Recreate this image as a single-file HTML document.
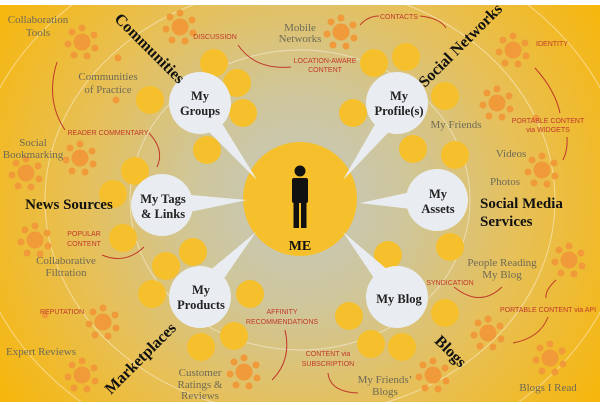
<!DOCTYPE html>
<html><head><meta charset="utf-8"><style>
html,body{margin:0;padding:0;background:#fff;overflow:hidden;width:600px;height:405px}
svg{display:block}
.g{font-family:"Liberation Serif",serif;font-size:11px;fill:#6e6a55;text-anchor:middle}
.r{font-family:"Liberation Sans",sans-serif;font-size:7px;fill:#c0392b;text-anchor:middle}
.b{font-family:"Liberation Serif",serif;font-weight:bold;fill:#111;text-anchor:middle}
.w{font-family:"Liberation Serif",serif;font-weight:bold;font-size:12.5px;fill:#222;text-anchor:middle}
.y{fill:#f5c02c}
.c{fill:none;stroke:#c0392b;stroke-width:1}
</style></head><body>
<svg width="600" height="405" viewBox="0 0 600 405" xmlns="http://www.w3.org/2000/svg">
<defs>
<radialGradient id="bg" cx="300" cy="200" r="360" gradientUnits="userSpaceOnUse">
<stop offset="0" stop-color="#c4c8c0"/><stop offset="0.3" stop-color="#cfc69a"/>
<stop offset="0.6" stop-color="#e6c05a"/><stop offset="1" stop-color="#f7b60a"/></radialGradient>
<g id="f" fill="#f09a3a"><circle r="8.5"/><circle cx="0" cy="-14" r="3.5"/><circle cx="12" cy="-7" r="3.5"/><circle cx="13" cy="6" r="3.5"/><circle cx="5" cy="14" r="3.5"/><circle cx="-8" cy="13" r="3.5"/><circle cx="-14" cy="2" r="3.5"/><circle cx="-10" cy="-10" r="3.5"/></g>
</defs>
<rect width="600" height="405" fill="#fff"/>
<rect y="5" width="600" height="397" fill="url(#bg)"/>
<g fill="none" stroke="#fff" stroke-opacity="0.45" stroke-width="1">
<ellipse cx="300" cy="200" rx="170" ry="150"/>
<ellipse cx="300" cy="200" rx="255" ry="215"/>
<ellipse cx="300" cy="200" rx="330" ry="270"/>
</g>
<g>
<use href="#f" x="82" y="42"/><use href="#f" x="180" y="27"/><use href="#f" x="341" y="32"/>
<use href="#f" x="513" y="50"/><use href="#f" x="497" y="103"/><use href="#f" x="542" y="170"/>
<use href="#f" x="80" y="158"/><use href="#f" x="26" y="173"/><use href="#f" x="35" y="240"/>
<use href="#f" x="103" y="322"/><use href="#f" x="82" y="375"/><use href="#f" x="244" y="372"/>
<use href="#f" x="569" y="260"/><use href="#f" x="488" y="333"/><use href="#f" x="433" y="375"/>
<use href="#f" x="550" y="358"/>
</g>
<g fill="#f09a3a"><circle cx="118" cy="58" r="3.5"/><circle cx="116" cy="100" r="3.5"/><circle cx="45" cy="315" r="3.5"/><circle cx="536" cy="118" r="3.5"/></g>
<path class="c" d="M238,45 Q255,70 291,67"/>
<path class="c" d="M360,25 Q368,16 379,16"/>
<path class="c" d="M420,16 Q440,18 446,28"/>
<path class="c" d="M57,62 Q45,100 65,130"/>
<path class="c" d="M149,133 Q165,150 157,167"/>
<path class="c" d="M102,255 Q125,265 144,247"/>
<path class="c" d="M535,68 Q555,90 560,113"/>
<path class="c" d="M567,137 Q568,150 563,160"/>
<path class="c" d="M454,287 Q480,308 502,287"/>
<path class="c" d="M556,280 Q545,290 546,298"/>
<path class="c" d="M548,317 Q540,338 513,343"/>
<path class="c" d="M285,330 Q292,360 272,380"/>
<path class="c" d="M328,373 Q330,392 358,393"/>
<g class="y">
<circle cx="214" cy="63" r="14"/><circle cx="237" cy="83" r="14"/><circle cx="150" cy="100" r="14"/><circle cx="243" cy="113" r="14"/><circle cx="207" cy="150" r="14"/><circle cx="135" cy="171" r="14"/><circle cx="113" cy="194" r="14"/>
<circle cx="123" cy="238" r="14"/><circle cx="193" cy="252" r="14"/><circle cx="166" cy="266" r="14"/><circle cx="152" cy="294" r="14"/><circle cx="250" cy="294" r="14"/><circle cx="234" cy="336" r="14"/><circle cx="201" cy="347" r="14"/>
<circle cx="374" cy="63" r="14"/><circle cx="406" cy="57" r="14"/><circle cx="445" cy="96" r="14"/><circle cx="353" cy="113" r="14"/><circle cx="413" cy="149" r="14"/><circle cx="455" cy="155" r="14"/>
<circle cx="388" cy="255" r="14"/><circle cx="450" cy="247" r="14"/><circle cx="349" cy="316" r="14"/><circle cx="445" cy="313" r="14"/><circle cx="371" cy="344" r="14"/><circle cx="402" cy="347" r="14"/>
</g>
<circle cx="300" cy="199" r="57" fill="#f5c02c"/>
<g fill="#111"><circle cx="300" cy="171" r="5.5"/><rect x="292" y="178" width="16" height="25" rx="2"/><rect x="293.5" y="200" width="5.5" height="28"/><rect x="301" y="200" width="5.5" height="28"/></g>
<text class="b" x="300" y="250" font-size="14">ME</text>
<g fill="#e9edf1">
<circle cx="200" cy="103" r="31"/><polygon points="195,118 215,112 257,180"/>
<circle cx="397" cy="103" r="31"/><polygon points="402,118 382,112 343,180"/>
<circle cx="162" cy="205" r="31"/><polygon points="180,194 180,214 247,200"/>
<circle cx="437" cy="200" r="31"/><polygon points="420,190 420,210 360,203"/>
<circle cx="200" cy="297" r="31"/><polygon points="196,282 216,290 256,232"/>
<circle cx="397" cy="297" r="31"/><polygon points="402,282 382,290 343,232"/>
</g>
<text class="w"><tspan x="200" y="100">My</tspan><tspan x="200" y="115">Groups</tspan></text>
<text class="w"><tspan x="399" y="100">My</tspan><tspan x="399" y="115">Profile(s)</tspan></text>
<text class="w"><tspan x="163" y="203">My Tags</tspan><tspan x="163" y="218">&amp; Links</tspan></text>
<text class="w"><tspan x="438" y="198">My</tspan><tspan x="438" y="213">Assets</tspan></text>
<text class="w"><tspan x="201" y="294">My</tspan><tspan x="201" y="309">Products</tspan></text>
<text class="w" x="399" y="303">My Blog</text>
<text class="b" font-size="16" transform="translate(146,52) rotate(45)">Communities</text>
<text class="b" font-size="16" transform="translate(464,49) rotate(-45)">Social Networks</text>
<text class="b" font-size="15" x="69" y="209">News Sources</text>
<text class="b" font-size="15" x="480" y="208" style="text-anchor:start">Social Media</text>
<text class="b" font-size="15" x="480" y="226" style="text-anchor:start">Services</text>
<text class="b" font-size="16" transform="translate(144,362) rotate(-45)">Marketplaces</text>
<text class="b" font-size="16" transform="translate(447,355) rotate(45)">Blogs</text>
<text class="g"><tspan x="38" y="23">Collaboration</tspan><tspan x="38" y="36">Tools</tspan></text>
<text class="g"><tspan x="108" y="80">Communities</tspan><tspan x="108" y="93">of Practice</tspan></text>
<text class="g"><tspan x="33" y="146">Social</tspan><tspan x="33" y="158">Bookmarking</tspan></text>
<text class="g"><tspan x="66" y="264">Collaborative</tspan><tspan x="66" y="276">Filtration</tspan></text>
<text class="g" x="41" y="355">Expert Reviews</text>
<text class="g"><tspan x="200" y="376">Customer</tspan><tspan x="200" y="388">Ratings &amp;</tspan><tspan x="200" y="399">Reviews</tspan></text>
<text class="g"><tspan x="300" y="31">Mobile</tspan><tspan x="300" y="42">Networks</tspan></text>
<text class="g" x="456" y="128">My Friends</text>
<text class="g" x="511" y="157">Videos</text>
<text class="g" x="505" y="185">Photos</text>
<text class="g"><tspan x="502" y="266">People Reading</tspan><tspan x="502" y="278">My Blog</tspan></text>
<text class="g"><tspan x="385" y="383">My Friends’</tspan><tspan x="385" y="395">Blogs</tspan></text>
<text class="g" x="548" y="391">Blogs I Read</text>
<text class="r" x="215" y="39">DISCUSSION</text>
<text class="r" x="399" y="19">CONTACTS</text>
<text class="r"><tspan x="325" y="63">LOCATION-AWARE</tspan><tspan x="325" y="72">CONTENT</tspan></text>
<text class="r" x="552" y="46">IDENTITY</text>
<text class="r"><tspan x="548" y="123">PORTABLE CONTENT</tspan><tspan x="548" y="132">via WIDGETS</tspan></text>
<text class="r" x="108" y="135">READER COMMENTARY</text>
<text class="r"><tspan x="84" y="236">POPULAR</tspan><tspan x="84" y="246">CONTENT</tspan></text>
<text class="r" x="62" y="314">REPUTATION</text>
<text class="r"><tspan x="282" y="314">AFFINITY</tspan><tspan x="282" y="324">RECOMMENDATIONS</tspan></text>
<text class="r" x="450" y="285">SYNDICATION</text>
<text class="r" x="548" y="312">PORTABLE CONTENT via API</text>
<text class="r"><tspan x="328" y="356">CONTENT via</tspan><tspan x="328" y="366">SUBSCRIPTION</tspan></text>
</svg>
</body></html>
